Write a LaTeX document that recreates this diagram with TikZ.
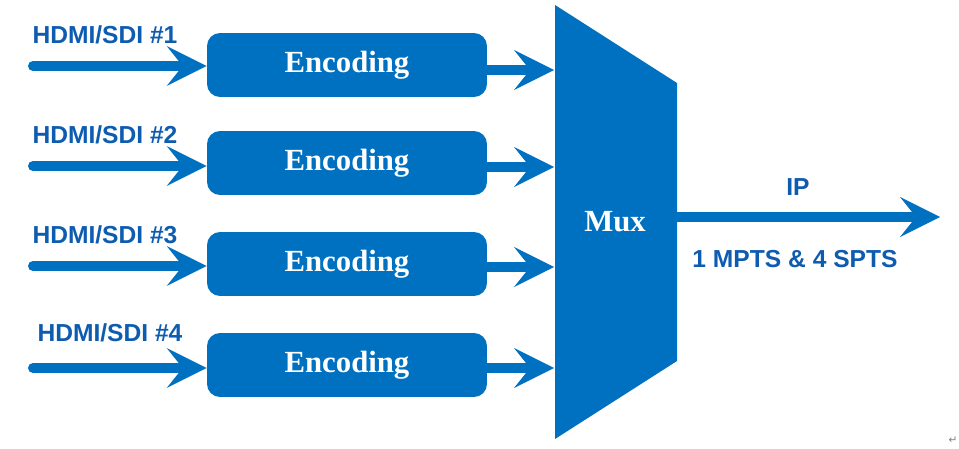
\documentclass[tikz,border=0pt]{standalone}
\usepackage{fontspec}
\setmainfont{Liberation Serif}
\setsansfont{Liberation Sans}
\newfontfamily\symfont{DejaVu Sans}
\usetikzlibrary{calc, arrows.meta, positioning}

\definecolor{boxblue}{RGB}{0,112,192}
\definecolor{textblue}{RGB}{14,92,176}

\begin{document}
\begin{tikzpicture}[x=0.02cm, y=-0.02cm, >={Stealth[length=0.8cm, width=0.8cm, inset=0.32cm, line width=0pt]}]
				\tikzstyle{encbox} = [fill=boxblue, draw=none, rounded corners=0.26cm, minimum width=5.6cm, minimum height=1.28cm, text=white, font=\fontsize{17.5}{20}\selectfont\bfseries]
				\tikzstyle{label} = [text=textblue, font=\fontsize{14}{16}\selectfont\sffamily\bfseries]
				\tikzstyle{flow} = [draw, ->, color=boxblue, line width=0.2cm, line cap=round]
				
				\useasboundingbox (0, 0) rectangle (959, 449);
				
				% mux
				\fill[boxblue] (555, 5) -- (677, 83) -- (677, 361) -- (555, 439) -- cycle;
				\node[text=white, font=\fontsize{17.5}{20}\selectfont\bfseries] at (615, 222) (mux) {Mux};
				
				% encoders
				\node[encbox] at (347, 65)		(enc1)	{Encoding};
				\node[encbox] at (347, 163)		(enc2)	{Encoding};
				\node[encbox] at (347, 264)		(enc3)	{Encoding};
				\node[encbox] at (347, 365)		(enc4)	{Encoding};
				
				\node[label] at (105, 35)		(src1)	{HDMI/SDI \#1};
				\node[label] at (105, 135)		(src2)	{HDMI/SDI \#2};
				\node[label] at (105, 235)		(src3)	{HDMI/SDI \#3};
				\node[label] at (110, 333)		(src4)	{HDMI/SDI \#4};
				
				\coordinate (in1) at (33, 66);
				\coordinate (in2) at (33, 166);
				\coordinate (in3) at (33, 266);
				\coordinate (in4) at (33, 368);
				
				\coordinate (out1) at (554, 70);
				\coordinate (out2) at (554, 167);
				\coordinate (out3) at (554, 267);
				\coordinate (out4) at (554, 368);
				
				\coordinate (ipin) at (672, 217);
				\coordinate (ipout) at (940, 217);
				
				\path[every edge/.style=flow]
				(in1)	edge	(in1 -| enc1.west)
				(in2)	edge	(in2 -| enc2.west)
				(in3)	edge	(in3 -| enc3.west)
				(in4)	edge	(in4 -| enc4.west)
				(out1 -| enc1.east)	edge	(out1)
				(out2 -| enc2.east)	edge	(out2)
				(out3 -| enc3.east)	edge	(out3)
				(out4 -| enc4.east)	edge	(out4)
				(ipin)	edge	(ipout);
				
				\node[label] at (798, 187)		(ip)	{IP};
				\node[label] at (795, 259)		(ts)	{1 MPTS \& 4 SPTS};
				\node[text=gray, font=\symfont\fontsize{6}{6}\selectfont] at (953, 440) (mark) {↵};
\end{tikzpicture}
\end{document}
